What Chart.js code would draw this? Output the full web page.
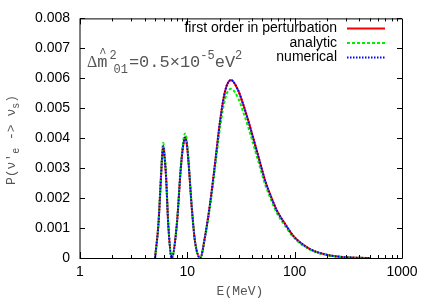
<!DOCTYPE html>
<html>
<head>
<meta charset="utf-8">
<script src="https://cdn.jsdelivr.net/npm/chart.js@4/dist/chart.umd.min.js"></script>
<style>
html,body{margin:0;padding:0;background:#fff;}
#wrap{width:436px;height:305px;}
</style>
</head>
<body>
<div id="wrap"><canvas id="c" width="436" height="305"></canvas></div>
<script>
// Energies (MeV)
const energies = [5.0, 5.37, 5.69, 5.83, 5.97, 6.12, 6.33, 6.65, 7.15, 7.97, 8.68, 9.1, 9.52, 9.85, 10.2, 11.0, 11.8, 13.2, 14.6, 16.3, 18.1, 20.2, 22.5, 25.5, 29.9, 33.0, 37.0, 41.0, 45.9, 53.0, 60.2, 68.1, 82, 97, 139, 199, 282, 405, 500];
// Probabilities (x 1e-3)
const firstOrder = [0, 1.09, 2.74, 3.42, 3.73, 3.42, 2.74, 1.09, 0, 1.09, 2.97, 3.70, 4.02, 3.85, 3.31, 1.68, 0.54, 0, 0.71, 1.82, 3.14, 4.58, 5.58, 5.94, 5.58, 5.15, 4.58, 4.02, 3.39, 2.59, 2.05, 1.59, 1.12, 0.74, 0.30, 0.11, 0.03, 0.007, 0];
const analytic   = [0, 1.12, 2.83, 3.55, 3.85, 3.56, 2.83, 1.12, 0, 1.12, 3.06, 3.83, 4.16, 3.98, 3.42, 1.72, 0.55, 0, 0.68, 1.74, 3.00, 4.37, 5.32, 5.65, 5.32, 4.90, 4.36, 3.82, 3.22, 2.46, 1.95, 1.51, 1.06, 0.70, 0.28, 0.10, 0.03, 0.006, 0];
const numerical  = [0, 1.09, 2.74, 3.42, 3.73, 3.42, 2.74, 1.09, 0, 1.09, 2.97, 3.70, 4.02, 3.85, 3.31, 1.68, 0.54, 0, 0.71, 1.82, 3.14, 4.58, 5.58, 5.94, 5.58, 5.15, 4.58, 4.02, 3.39, 2.59, 2.05, 1.59, 1.12, 0.74, 0.30, 0.11, 0.03, 0.007, 0];
const seriesNames = ["first order in perturbation", "analytic", "numerical"];
const xTickValues = [1, 10, 100, 1000];
const yTickValues = [0, 0.001, 0.002, 0.003, 0.004, 0.005, 0.006, 0.007, 0.008];

const toPts = arr => energies.map((e, i) => ({x: e, y: arr[i] / 1000}));

const styles = [
  {color: '#ff0000', dash: []},
  {color: '#00ee00', dash: [3, 2]},
  {color: '#0000ff', dash: [1.5, 1.5]}
];

const boxPlugin = {
  id: 'boxPlugin',
  afterDraw(chart) {
    const ctx = chart.ctx;
    const a = chart.chartArea;
    const xs = chart.scales.x, ys = chart.scales.y;
    ctx.save();
    // border
    ctx.strokeStyle = '#000';
    ctx.lineWidth = 1;
    ctx.setLineDash([]);
    ctx.beginPath();
    ctx.moveTo(a.left, a.bottom + 0.5); ctx.lineTo(a.right + 0.5, a.bottom + 0.5);
    ctx.lineTo(a.right + 0.5, a.top + 0.5); ctx.lineTo(a.left, a.top + 0.5);
    ctx.stroke();
    ctx.beginPath();
    ctx.moveTo(a.left, a.top); ctx.lineTo(a.left, a.bottom + 1);
    ctx.stroke();
    // x ticks (major + minor), bottom & top
    ctx.beginPath();
    for (let d = 1; d < 1000; d *= 10) {
      for (let k = 1; k <= 9; k++) {
        const v = d * k;
        const px = Math.round(xs.getPixelForValue(v)) + 0.5;
        const len = (k === 1) ? 6 : 3;
        ctx.moveTo(px, a.bottom); ctx.lineTo(px, a.bottom - len);
        ctx.moveTo(px, a.top); ctx.lineTo(px, a.top + len);
      }
    }
    // y ticks left & right
    yTickValues.forEach(v => {
      const py = Math.round(ys.getPixelForValue(v)) + 0.5;
      ctx.moveTo(a.left, py); ctx.lineTo(a.left + 5, py);
      ctx.moveTo(a.right, py); ctx.lineTo(a.right - 5, py);
    });
    ctx.stroke();

    // legend
    ctx.font = '14px "Liberation Sans", Arial, sans-serif';
    ctx.fillStyle = '#000';
    ctx.textAlign = 'right';
    ctx.textBaseline = 'middle';
    const rows = [28.5, 43, 57.5];
    seriesNames.forEach((n, i) => {
      ctx.fillText(n, 337, rows[i]);
      ctx.strokeStyle = styles[i].color;
      ctx.lineWidth = 2;
      ctx.setLineDash(styles[i].dash);
      ctx.beginPath();
      ctx.moveTo(347, rows[i]); ctx.lineTo(385, rows[i]);
      ctx.stroke();
    });
    ctx.setLineDash([]);

    // annotation
    ctx.fillStyle = '#555';
    ctx.textAlign = 'left';
    ctx.textBaseline = 'alphabetic';
    let x = 87;
    const base = 67;
    ctx.font = '16px "Liberation Serif", serif';
    ctx.fillText('\u0394', x, base); x += ctx.measureText('\u0394').width;
    ctx.font = '17px "Liberation Mono", monospace';
    const mx = x;
    ctx.fillText('m', x, base); x += ctx.measureText('m').width;
    ctx.font = '12px "Liberation Mono", monospace';
    ctx.fillText('^', mx + 2, base - 10);
    ctx.fillText('2', x + 2, base - 8);
    ctx.fillText('01', x + 6, base + 6);
    x += 7 + ctx.measureText('01').width;
    ctx.font = '17px "Liberation Mono", monospace';
    ctx.fillText('=0.5\u00d710', x, base); x += ctx.measureText('=0.5\u00d710').width;
    ctx.font = '12px "Liberation Mono", monospace';
    ctx.fillText('-5', x, base - 8); x += ctx.measureText('-5').width;
    ctx.font = '17px "Liberation Mono", monospace';
    ctx.fillText('eV', x, base); x += ctx.measureText('eV').width;
    ctx.font = '12px "Liberation Mono", monospace';
    ctx.fillText('2', x, base - 8);

    // x title
    ctx.font = '13px "Liberation Mono", monospace';
    ctx.textAlign = 'center';
    ctx.textBaseline = 'middle';
    ctx.fillText('E(MeV)', 240, 292);

    // y title (rotated)
    ctx.translate(12, 140);
    ctx.rotate(-Math.PI / 2);
    ctx.textAlign = 'left';
    ctx.textBaseline = 'middle';
    const parts = [
      {t: "P(\u03bd'", f: '13px "Liberation Mono", monospace', dy: 0},
      {t: 'e', f: '10px "Liberation Mono", monospace', dy: 4},
      {t: ' -> \u03bd', f: '13px "Liberation Mono", monospace', dy: 0},
      {t: 's', f: '10px "Liberation Mono", monospace', dy: 4},
      {t: ')', f: '13px "Liberation Mono", monospace', dy: 0}
    ];
    let total = 0;
    parts.forEach(p => { ctx.font = p.f; total += ctx.measureText(p.t).width; });
    let tx = -total / 2;
    parts.forEach(p => { ctx.font = p.f; ctx.fillText(p.t, tx, p.dy); tx += ctx.measureText(p.t).width; });
    ctx.restore();
  }
};

new Chart(document.getElementById('c'), {
  type: 'line',
  data: {
    datasets: [
      {label: seriesNames[0], data: toPts(firstOrder), borderColor: styles[0].color, borderWidth: 2, borderDash: styles[0].dash, order: 3},
      {label: seriesNames[1], data: toPts(analytic), borderColor: styles[1].color, borderWidth: 2, borderDash: styles[1].dash, order: 2},
      {label: seriesNames[2], data: toPts(numerical), borderColor: styles[2].color, borderWidth: 2, borderDash: styles[2].dash, order: 1}
    ]
  },
  options: {
    responsive: false,
    animation: false,
    elements: {point: {radius: 0}, line: {cubicInterpolationMode: 'monotone', fill: false}},
    layout: {padding: {top: 17, right: 34, left: 0, bottom: 0}},
    plugins: {legend: {display: false}, tooltip: {enabled: false}},
    scales: {
      x: {
        type: 'logarithmic', min: 1, max: 1000,
        grid: {display: false, drawTicks: false},
        border: {display: false},
        afterFit(s) { s.height = 47; },
        afterBuildTicks(s) { s.ticks = xTickValues.map(v => ({value: v})); },
        ticks: {
          autoSkip: false, maxRotation: 0, padding: 6,
          color: '#000', font: {family: '"Liberation Sans", Arial, sans-serif', size: 14},
          callback: v => String(v)
        }
      },
      y: {
        min: 0, max: 0.008,
        grid: {display: false, drawTicks: false},
        border: {display: false},
        afterFit(s) { s.width = 80; },
        afterBuildTicks(s) { s.ticks = yTickValues.map(v => ({value: v})); },
        ticks: {
          padding: 10,
          color: '#000', font: {family: '"Liberation Sans", Arial, sans-serif', size: 14},
          callback: v => (v === 0 ? '0' : v.toFixed(3))
        }
      }
    }
  },
  plugins: [boxPlugin]
});
</script>
</body>
</html>
